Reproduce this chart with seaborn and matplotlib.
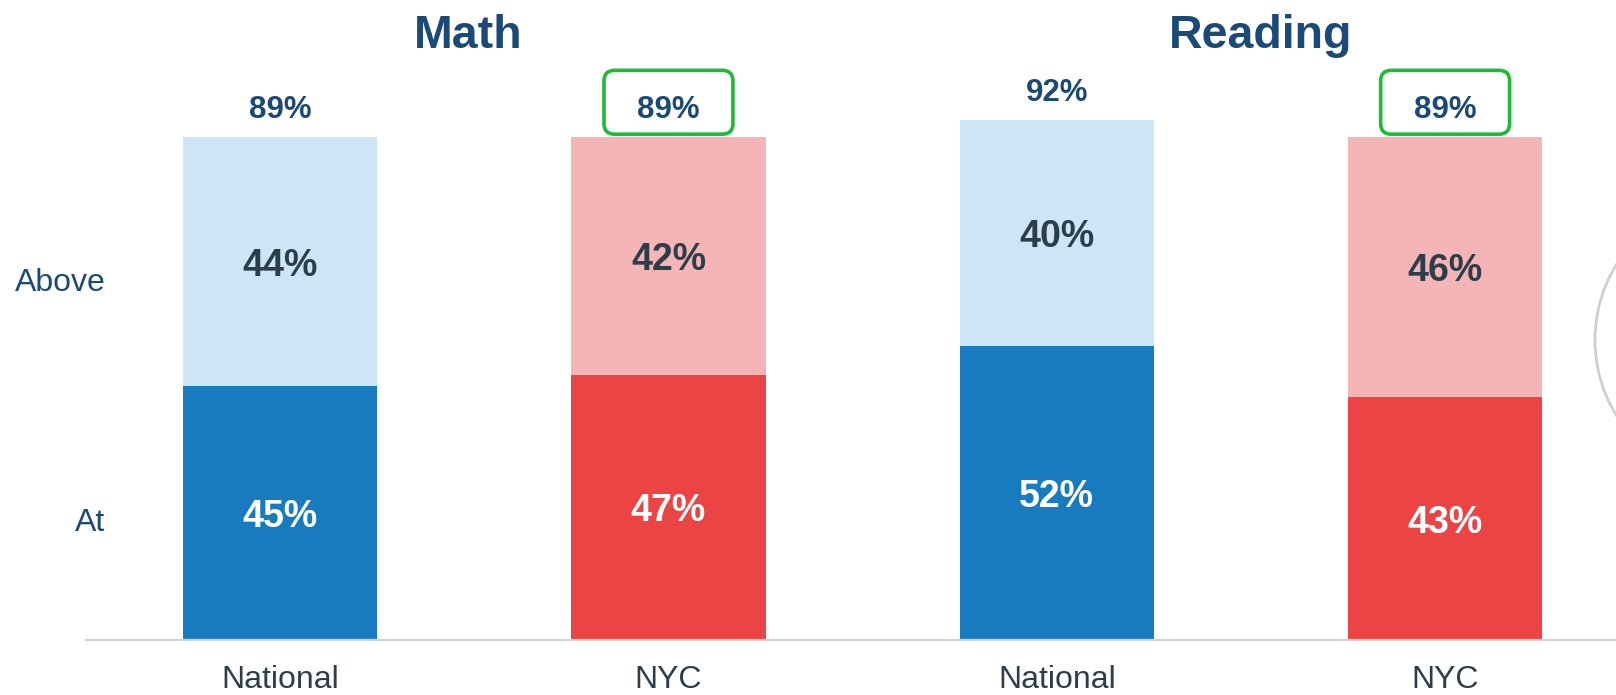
import pandas as pd
import matplotlib
matplotlib.use('Agg')
import matplotlib.pyplot as plt
import seaborn as sns
from matplotlib.patches import FancyBboxPatch, Ellipse

# data
subjects = ['Math', 'Reading']
places = ['National', 'NYC', 'National', 'NYC']
keys = ['Math National', 'Math NYC', 'Reading National', 'Reading NYC']
at_pct = [45, 47, 52, 43]
above_pct = [44, 42, 40, 46]
total_pct = [89, 89, 92, 89]
highlight = [False, True, False, True]

dark_cols = {'Math National': '#187bbf', 'Math NYC': '#ec4344',
             'Reading National': '#187bbf', 'Reading NYC': '#ec4344'}
light_cols = {'Math National': '#cce6f7', 'Math NYC': '#f5b4b5',
              'Reading National': '#cce6f7', 'Reading NYC': '#f5b4b5'}

df = pd.DataFrame({'key': keys, 'place': places, 'at': at_pct,
                   'above': above_pct, 'total': total_pct})

sns.set_theme(style='white')
plt.rcParams['font.family'] = ['Liberation Sans', 'DejaVu Sans']

navy = '#1b4a78'
dark = '#2d3e4b'

fig = plt.figure(figsize=(16.16, 6.95), dpi=100)
ax = fig.add_axes([0.0532, 0.0791, 0.9468, 0.9209])

sns.barplot(data=df, x='key', y='total', hue='key', palette=light_cols,
            width=0.5, legend=False, ax=ax, saturation=1, linewidth=0)
sns.barplot(data=df, x='key', y='at', hue='key', palette=dark_cols,
            width=0.5, legend=False, ax=ax, saturation=1, linewidth=0)

ax.set_xlim(-0.5, 3.44)
ax.set_ylim(0, 113.3)
sns.despine(ax=ax, left=True, top=True, right=True)
ax.spines['bottom'].set_color('#d3d3d3')
ax.spines['bottom'].set_linewidth(1.6)
ax.set_yticks([])
ax.set_xlabel('')
ax.set_ylabel('')
ax.set_xticks(range(len(places)))
ax.set_xticklabels(places, fontsize=23, color=dark)
ax.tick_params(axis='x', length=0, pad=18)

for i, row in df.iterrows():
    ax.text(i, row['at'] / 2 - 0.7, f"{row['at']}%", ha='center', va='center',
            fontsize=27, fontweight='bold', color='white')
    ax.text(i, row['at'] + row['above'] / 2 - 0.7, f"{row['above']}%",
            ha='center', va='center', fontsize=27, fontweight='bold',
            color=dark)
    ax.text(i, row['total'] + 4.85, f"{row['total']}%", ha='center',
            va='center', fontsize=22.5, fontweight='bold', color=navy)
    if highlight[i]:
        w, h = 0.332, 11.3
        box = FancyBboxPatch((i - w / 2, row['total'] + 6.2 - h / 2), w, h,
                             boxstyle='round,pad=0,rounding_size=0.027',
                             mutation_aspect=68.7, fill=False,
                             edgecolor='#1fbb37', linewidth=2.6,
                             clip_on=False)
        ax.add_patch(box)

title_x = [0.485, 2.525]
for s, tx in zip(subjects, title_x):
    ax.text(tx, 106.9, s, ha='center', va='center', fontsize=33.5,
            fontweight='bold', color=navy)

ax.text(-0.45, 63.2, 'Above', ha='right', va='center', fontsize=23, color=navy)
ax.text(-0.45, 20.8, 'At', ha='right', va='center', fontsize=23, color=navy)

fig.patches.append(Ellipse((1739 / 1616, 1 - 340 / 695), 2 * 144 / 1616,
                           2 * 144 / 695, transform=fig.transFigure,
                           fill=False, edgecolor='#cfcfcf', linewidth=2))

fig.savefig('out.png', dpi=100)
